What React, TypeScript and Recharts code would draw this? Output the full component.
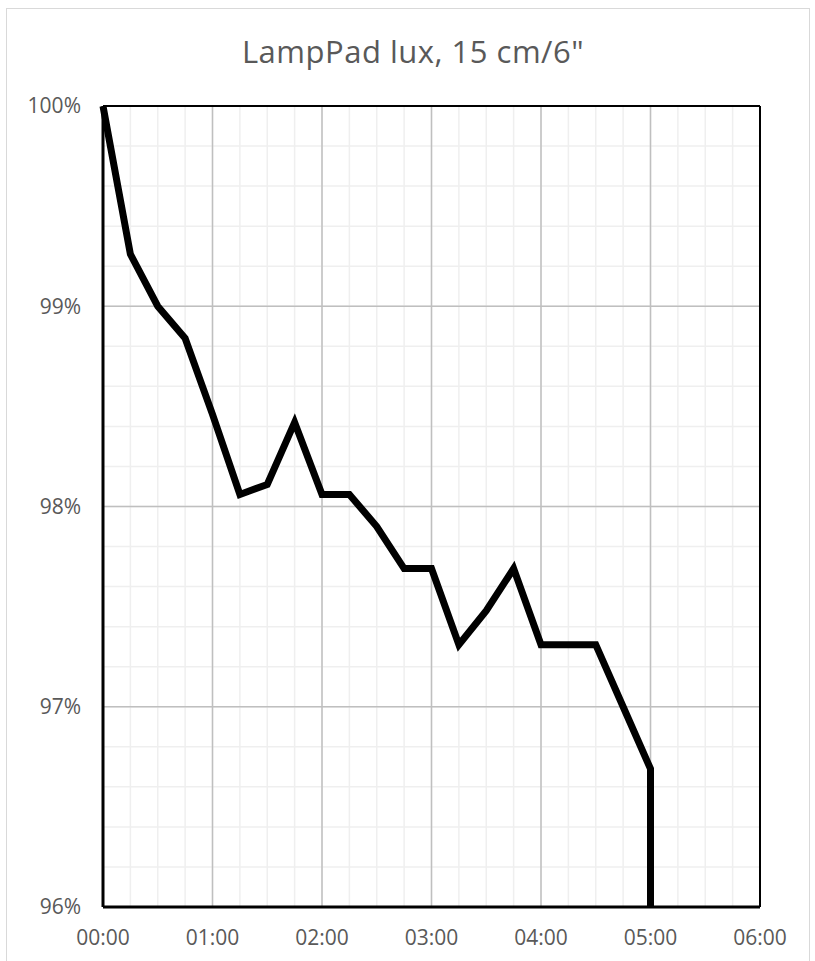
import React from "react";
import { LineChart, Line, XAxis, YAxis, CartesianGrid, ReferenceLine } from "recharts";

// elapsed time in hours, one reading every 15 minutes
const hours = [0, 0.25, 0.5, 0.75, 1, 1.25, 1.5, 1.75, 2, 2.25, 2.5, 2.75, 3, 3.25, 3.5, 3.75, 4, 4.25, 4.5, 4.75, 5, 5];
// relative lux, % of start value
const luxPct = [100, 99.26, 99.0, 98.84, 98.46, 98.06, 98.11, 98.42, 98.06, 98.06, 97.9, 97.69, 97.69, 97.31, 97.48, 97.69, 97.31, 97.31, 97.31, 97.0, 96.69, 96];

const xTicks = [0, 1, 2, 3, 4, 5, 6];
const yTicks = [96, 97, 98, 99, 100];
const xMinor = Array.from({ length: 25 }, (_, i) => i * 0.25);
const yMinor = Array.from({ length: 21 }, (_, i) => 96 + i * 0.2);

const data = hours.map((t, i) => ({ t, v: luxPct[i] }));

const FONT = "'Open Sans', 'Noto Sans', sans-serif";
const TEXT = "#595959";

const fmtTime = (h: number) => `0${h}:00`;

export default function App() {
  return (
    <div style={{ position: "absolute", left: 0, top: 0, width: 815, height: 961, background: "#fff", fontFamily: FONT, overflow: "hidden" }}>
      <div style={{ position: "absolute", left: 6, top: 8, width: 804, height: 980, border: "1px solid #d9d9d9", boxSizing: "border-box" }} />
      <div style={{ position: "absolute", left: 11, width: 804, top: 36, textAlign: "center", fontSize: 31, lineHeight: "31px", letterSpacing: 0.5, color: TEXT }}>
        LampPad lux, 15 cm/6"
      </div>
      <div style={{ position: "absolute", left: 0, top: 0 }}>
        <LineChart width={815} height={961} data={data} margin={{ top: 106, right: 55, left: 43, bottom: 24 }}>
          <CartesianGrid stroke="#efefef" strokeWidth={1.5} horizontalValues={yMinor} verticalValues={xMinor} />
          <CartesianGrid stroke="#bfbfbf" strokeWidth={1.5} horizontalValues={yTicks} verticalValues={xTicks} />
          <XAxis
            type="number"
            dataKey="t"
            domain={[0, 6]}
            ticks={xTicks}
            tickFormatter={fmtTime}
            interval={0}
            height={30}
            tickLine={false}
            tickSize={0}
            tickMargin={23}
            axisLine={{ stroke: "#000", strokeWidth: 3 }}
            tick={{ fill: TEXT, fontSize: 21, fontFamily: FONT }}
          />
          <YAxis
            type="number"
            domain={[96, 100]}
            ticks={yTicks}
            allowDataOverflow
            tickFormatter={(v: number) => `${v}%`}
            width={60}
            tickLine={false}
            tickSize={0}
            tickMargin={22}
            axisLine={{ stroke: "#000", strokeWidth: 3 }}
            tick={{ fill: TEXT, fontSize: 21, fontFamily: FONT }}
          />
          <ReferenceLine y={100} stroke="#000" strokeWidth={2} />
          <ReferenceLine x={6} stroke="#000" strokeWidth={2} />
          <Line
            type="linear"
            dataKey="v"
            stroke="#000"
            strokeWidth={7}
            dot={false}
            activeDot={false}
            isAnimationActive={false}
          />
        </LineChart>
      </div>
    </div>
  );
}
